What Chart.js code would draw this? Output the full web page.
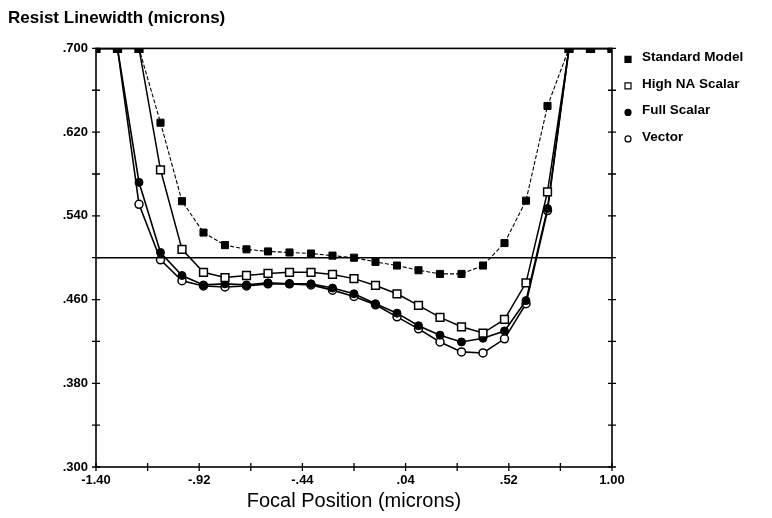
<!DOCTYPE html>
<html>
<head>
<meta charset="utf-8">
<title>Resist Linewidth vs Focal Position</title>
<script src="https://cdn.jsdelivr.net/npm/chart.js@4.4.0/dist/chart.umd.min.js"></script>
<style>
    html, body { margin: 0; padding: 0; background: #fff; }
    #wrap { width: 772px; height: 518px; }
</style>
</head>
<body>
<div id="wrap"><canvas id="focusChart"></canvas></div>
<script>
// Focal positions (microns)
const focalPositions = [-1.4, -1.3, -1.2, -1.1, -1.0, -0.9, -0.8, -0.7, -0.6, -0.5, -0.4, -0.3,
    -0.2, -0.1, 0.0, 0.1, 0.2, 0.3, 0.4, 0.5, 0.6, 0.7, 0.8, 0.9, 1.0];

// Resist linewidth (microns), values off the top are held at .700
const standardModel = [0.700, 0.700, 0.700, 0.629, 0.554, 0.524, 0.512, 0.508, 0.506, 0.505, 0.504, 0.502,
    0.500, 0.496, 0.4925, 0.488, 0.4845, 0.4845, 0.4925, 0.514, 0.5545, 0.645, 0.700, 0.700, 0.700];
const highNAScalar = [0.700, 0.700, 0.700, 0.584, 0.508, 0.486, 0.481, 0.483, 0.485, 0.486, 0.486, 0.484,
    0.480, 0.4735, 0.4655, 0.4545, 0.443, 0.434, 0.428, 0.441, 0.476, 0.563, 0.700, 0.700, 0.700];
const fullScalar = [0.700, 0.700, 0.572, 0.505, 0.483, 0.474, 0.475, 0.474, 0.476, 0.475, 0.475, 0.471,
    0.4655, 0.456, 0.447, 0.435, 0.426, 0.4195, 0.423, 0.430, 0.459, 0.547, 0.700, 0.700, 0.700];
const vectorModel = [0.700, 0.700, 0.551, 0.498, 0.478, 0.473, 0.472, 0.473, 0.475, 0.475, 0.474, 0.469,
    0.463, 0.455, 0.4435, 0.432, 0.4195, 0.410, 0.409, 0.4225, 0.456, 0.545, 0.700, 0.700, 0.700];

// Target linewidth reference line
const targetX = [-1.4, 1.0];
const targetY = [0.500, 0.500];

const xTickLabels = ['-1.40', '-.92', '-.44', '.04', '.52', '1.00'];
const yTickLabels = ['.300', '.380', '.460', '.540', '.620', '.700'];

function toPoints(xs, ys) {
    return xs.map((x, i) => ({ x: x, y: ys[i] }));
}

Chart.defaults.font.family = '"Liberation Sans", Arial, Helvetica, sans-serif';
Chart.defaults.color = '#000';

// Box around the plot with ticks that cross the axis lines
const frameTicks = {
    id: 'frameTicks',
    afterDatasetsDraw(chart) {
        const { ctx, chartArea: a, scales } = chart;
        ctx.save();
        ctx.strokeStyle = '#000';
        ctx.lineWidth = 1.6;
        ctx.strokeRect(a.left, a.top, a.right - a.left, a.bottom - a.top);
        ctx.lineWidth = 1.3;
        ctx.beginPath();
        scales.x.ticks.forEach((t, i) => {
            const px = scales.x.getPixelForTick(i);
            ctx.moveTo(px, a.bottom - 4);
            ctx.lineTo(px, a.bottom + 4);
        });
        scales.y.ticks.forEach((t, i) => {
            const py = scales.y.getPixelForTick(i);
            ctx.moveTo(a.left - 4, py);
            ctx.lineTo(a.left + 4, py);
            ctx.moveTo(a.right - 4, py);
            ctx.lineTo(a.right + 4, py);
        });
        ctx.stroke();
        ctx.restore();
    }
};

// Legend drawn to the right of the plot, small marker then label
const sideLegend = {
    id: 'sideLegend',
    afterDraw(chart) {
        const { ctx, chartArea: a } = chart;
        ctx.save();
        ctx.font = 'bold 13.5px "Liberation Sans", Arial, sans-serif';
        ctx.textBaseline = 'middle';
        let row = 0;
        chart.data.datasets.forEach(ds => {
            if (!ds.label) return;
            const mx = a.right + 16;
            const my = a.top + 11 + row * 26.5;
            ctx.fillStyle = ds.pointBackgroundColor;
            ctx.strokeStyle = '#000';
            ctx.lineWidth = 1.2;
            ctx.beginPath();
            if (ds.pointStyle === 'rect') {
                ctx.rect(mx - 3, my - 3, 6, 6);
            } else {
                ctx.arc(mx, my, 3, 0, Math.PI * 2);
            }
            ctx.fill();
            ctx.stroke();
            ctx.fillStyle = '#000';
            ctx.fillText(ds.label, mx + 14, my - 2);
            row++;
        });
        ctx.restore();
    }
};

const ctx = document.getElementById('focusChart').getContext('2d');
const focusChart = new Chart(ctx, {
    type: 'line',
    data: {
        datasets: [
            {
                label: '',
                data: toPoints(targetX, targetY),
                borderColor: '#000',
                borderWidth: 1.5,
                pointRadius: 0,
                clip: 0
            },
            {
                label: 'Standard Model',
                data: toPoints(focalPositions, standardModel),
                borderColor: '#000',
                borderWidth: 1.1,
                borderDash: [4, 2],
                pointStyle: 'rect',
                pointRadius: 5,
                pointBackgroundColor: '#000',
                pointBorderColor: '#000',
                pointBorderWidth: 1,
                clip: 0
            },
            {
                label: 'High NA Scalar',
                data: toPoints(focalPositions, highNAScalar),
                borderColor: '#000',
                borderWidth: 1.5,
                pointStyle: 'rect',
                pointRadius: 5.5,
                pointBackgroundColor: '#fff',
                pointBorderColor: '#000',
                pointBorderWidth: 1.5,
                clip: 0
            },
            {
                label: 'Full Scalar',
                data: toPoints(focalPositions, fullScalar),
                borderColor: '#000',
                borderWidth: 1.6,
                pointStyle: 'circle',
                pointRadius: 4,
                pointBackgroundColor: '#000',
                pointBorderColor: '#000',
                pointBorderWidth: 1,
                clip: 0
            },
            {
                label: 'Vector',
                data: toPoints(focalPositions, vectorModel),
                borderColor: '#000',
                borderWidth: 1.6,
                pointStyle: 'circle',
                pointRadius: 4,
                pointBackgroundColor: '#fff',
                pointBorderColor: '#000',
                pointBorderWidth: 1.5,
                clip: 0
            }
        ]
    },
    options: {
        responsive: true,
        maintainAspectRatio: false,
        animation: false,
        layout: { padding: { left: 8, right: 160, top: 0, bottom: 0 } },
        plugins: {
            legend: { display: false },
            tooltip: { enabled: false },
            title: {
                display: true,
                text: 'Resist Linewidth (microns)',
                align: 'start',
                font: { size: 17, weight: 'bold' },
                padding: { top: 8, bottom: 20 }
            }
        },
        scales: {
            x: {
                type: 'linear',
                min: -1.4,
                max: 1.0,
                grid: { display: false, drawTicks: true, tickLength: 4 },
                border: { display: false },
                ticks: {
                    stepSize: 0.24,
                    autoSkip: false,
                    maxRotation: 0,
                    padding: 2,
                    font: { size: 13, weight: 'bold' },
                    callback: (value, index) => index % 2 === 0 ? xTickLabels[index / 2] : ''
                },
                title: {
                    display: true,
                    text: 'Focal Position (microns)',
                    font: { size: 20 },
                    padding: { top: 0, bottom: 5 }
                },
                afterFit: scale => { scale.height = 51; }
            },
            y: {
                min: 0.3,
                max: 0.7,
                grid: { display: false, drawTicks: true, tickLength: 4 },
                border: { display: false },
                ticks: {
                    stepSize: 0.04,
                    autoSkip: false,
                    padding: 4,
                    font: { size: 13, weight: 'bold' },
                    callback: (value, index) => index % 2 === 0 ? yTickLabels[index / 2] : ''
                },
                afterFit: scale => { scale.width = 88; }
            }
        }
    },
    plugins: [frameTicks, sideLegend]
});
</script>
</body>
</html>
